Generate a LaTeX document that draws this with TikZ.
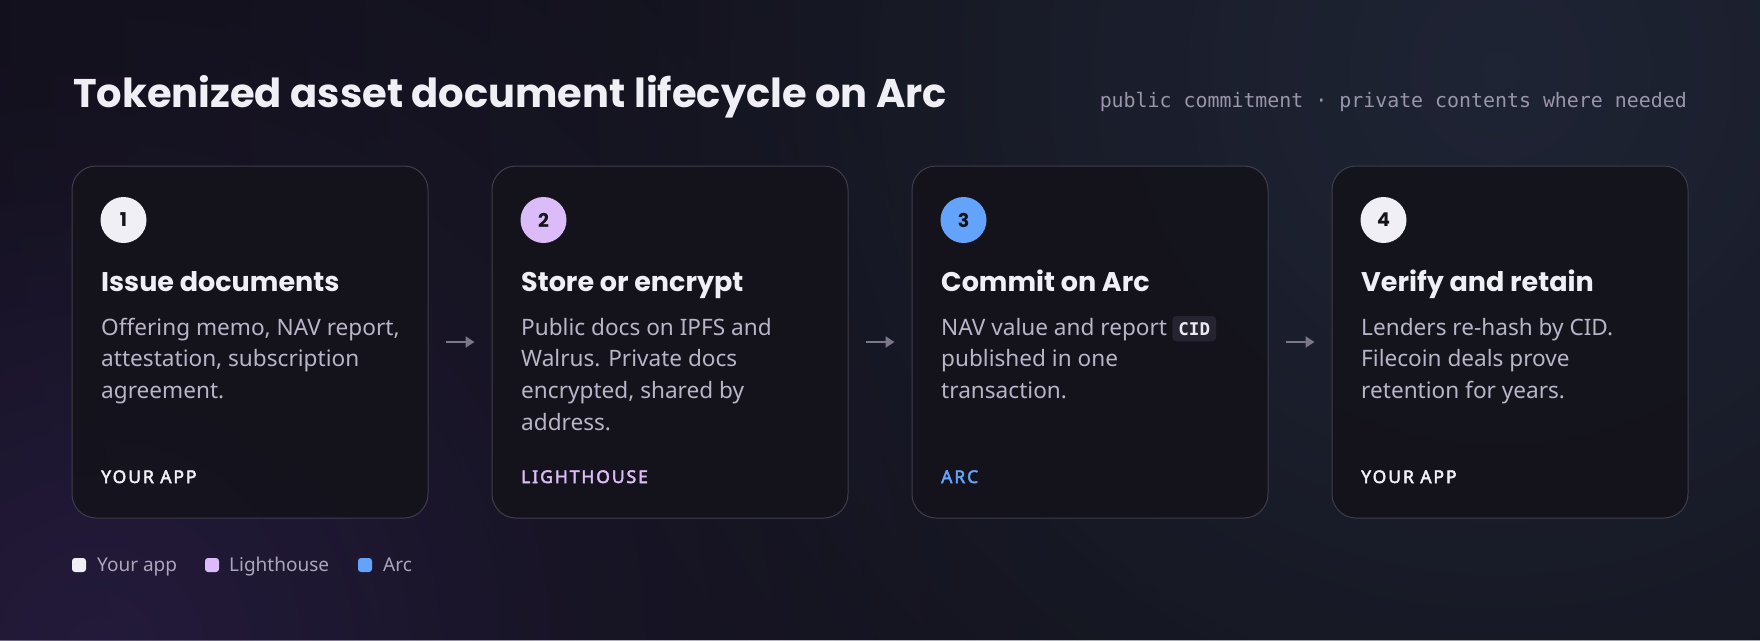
\documentclass[tikz,border=0pt]{standalone}
\usepackage{fontspec}
\setmainfont{Noto Sans}
\newfontfamily\headfont{Poppins}
\newfontfamily\codefont{DejaVu Sans Mono}
\newfontfamily\labelfont{Noto Sans}[LetterSpace=11, FakeBold=2.8]
\usetikzlibrary{arrows.meta,fadings}
\definecolor{bg}{HTML}{0E0D13}
\definecolor{glowblue}{HTML}{242B3E}
\definecolor{glowpurple}{HTML}{2B1F48}
\definecolor{cardfill}{HTML}{14131B}
\definecolor{cardline}{HTML}{3E3D4B}
\definecolor{titlec}{HTML}{F1EFF6}
\definecolor{bodyc}{HTML}{B9B4C8}
\definecolor{subc}{HTML}{9A95AA}
\definecolor{legc}{HTML}{ABA6BA}
\definecolor{arrowc}{HTML}{7A7788}
\definecolor{appc}{HTML}{F1EFF6}
\definecolor{lhc}{HTML}{DCBCF8}
\definecolor{arcc}{HTML}{64A3FB}
\definecolor{numc}{HTML}{15131C}
\definecolor{codefill}{HTML}{252430}
\definecolor{codec}{HTML}{ECEAF2}
\tikzfading[name=glowfade, inner color=transparent!0, outer color=transparent!100]
\begin{document}
\begin{tikzpicture}[x=1pt,y=-1pt,
  card/.style={draw=cardline, line width=1pt, fill=cardfill, fill opacity=0.9, rounded corners=24pt, minimum width=356pt, minimum height=352pt, inner sep=0pt},
  num/.style={circle, minimum size=46pt, inner sep=0pt, font=\headfont\bfseries\fontsize{19}{19}\selectfont, text=numc},
  ctitle/.style={anchor=base west, inner sep=0pt, text=titlec, font=\headfont\bfseries\fontsize{27}{30}\selectfont},
  body/.style={anchor=base west, inner sep=0pt, text=bodyc, font=\fontsize{22.6}{26}\selectfont},
  tag/.style={anchor=base west, inner sep=0pt, font=\labelfont\fontsize{17.5}{18}\selectfont},
  flow/.style={draw=arrowc, line width=2.5pt, -{Triangle[length=9pt,width=11pt]}, shorten <=17pt, shorten >=17pt},
  code/.style={anchor=base west, fill=codefill, rounded corners=4pt, inner xsep=6pt, inner ysep=6pt, text=codec, font=\codefont\bfseries\fontsize{17.5}{17.5}\selectfont},
  legsq/.style={rounded corners=3pt, minimum size=14pt, inner sep=0pt},
  legtxt/.style={anchor=base west, inner sep=0pt, text=legc, font=\fontsize{19}{20}\selectfont},
  glow/.style={path fading=glowfade}
]
\useasboundingbox (0,0) rectangle (1760,640);
\fill[bg] (0,0) rectangle (1760,640);
\begin{scope}
\clip (0,0) rectangle (1760,640);
\fill[glowblue, glow, fill opacity=0.45] (1500,70) circle (1600);
\fill[glowblue, glow, fill opacity=0.6] (1500,70) circle (900);
\fill[glowpurple, glow, fill opacity=0.5] (100,650) circle (1000);
\fill[glowpurple, glow, fill opacity=0.5] (100,650) circle (500);
\end{scope}

% title
\node[anchor=base west, inner sep=0pt, text=titlec, font=\headfont\bfseries\fontsize{40}{44}\selectfont] (title) at (73,107) {Tokenized asset document lifecycle on Arc};
\node[anchor=base east, inner sep=0pt, text=subc, font=\codefont\fontsize{19.9}{20}\selectfont] (sub) at (1687,107) {public commitment · private contents where needed};

% cards
\node[card] (c1) at (250,342) {};
\node[card] (c2) at (670,342) {};
\node[card] (c3) at (1090,342) {};
\node[card] (c4) at (1510,342) {};

\draw[flow] (c1.east) -- (c2.west);
\draw[flow] (c2.east) -- (c3.west);
\draw[flow] (c3.east) -- (c4.west);

% card 1
\node[num, fill=appc] (n1) at (123.5,220) {1};
\node[ctitle] (t1) at (101,291) {Issue documents};
\node[body] (b1a) at (101,335) {Offering memo, NAV report,};
\node[body] (b1b) at (101,366.7) {attestation, subscription};
\node[body] (b1c) at (101,398.4) {agreement.};
\node[tag, text=appc] (g1) at (101,483) {YOUR APP};

% card 2
\node[num, fill=lhc] (n2) at (543.5,220) {2};
\node[ctitle] (t2) at (521,291) {Store or encrypt};
\node[body] (b2a) at (521,335) {Public docs on IPFS and};
\node[body] (b2b) at (521,366.7) {Walrus. Private docs};
\node[body] (b2c) at (521,398.4) {encrypted, shared by};
\node[body] (b2d) at (521,430.1) {address.};
\node[tag, text=lhc] (g2) at (521,483) {LIGHTHOUSE};

% card 3
\node[num, fill=arcc] (n3) at (963.5,220) {3};
\node[ctitle] (t3) at (941,291) {Commit on Arc};
\node[body] (b3a) at (941,335) {NAV value and report};
\node[code, xshift=5pt] (cid) at (b3a.base east) {CID};
\node[body] (b3b) at (941,366.7) {published in one};
\node[body] (b3c) at (941,398.4) {transaction.};
\node[tag, text=arcc] (g3) at (941,483) {ARC};

% card 4
\node[num, fill=appc] (n4) at (1383.5,220) {4};
\node[ctitle] (t4) at (1361,291) {Verify and retain};
\node[body] (b4a) at (1361,335) {Lenders re-hash by CID.};
\node[body] (b4b) at (1361,366.7) {Filecoin deals prove};
\node[body] (b4c) at (1361,398.4) {retention for years.};
\node[tag, text=appc] (g4) at (1361,483) {YOUR APP};

% legend
\node[legsq, fill=appc] (l1) at (79,565) {};
\node[legtxt] (lt1) at (97,571) {Your app};
\node[legsq, fill=lhc] (l2) at (212,565) {};
\node[legtxt] (lt2) at (229,571) {Lighthouse};
\node[legsq, fill=arcc] (l3) at (365,565) {};
\node[legtxt] (lt3) at (383,571) {Arc};
\end{tikzpicture}
\end{document}
